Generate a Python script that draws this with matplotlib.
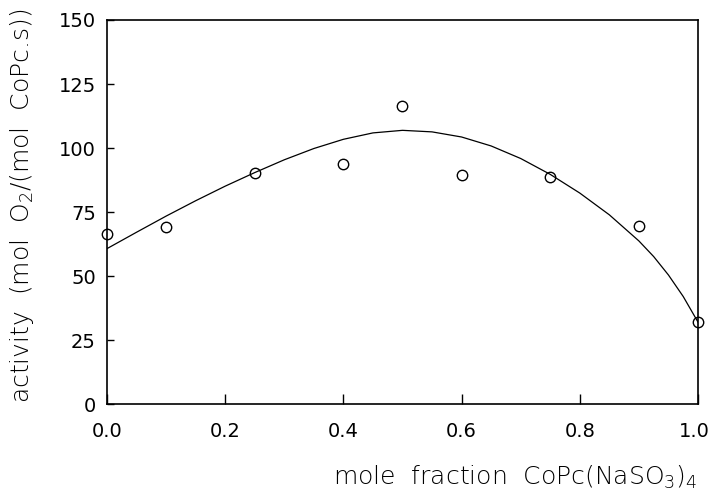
import matplotlib
matplotlib.use('Agg')
from matplotlib import pyplot as plt
from matplotlib import transforms

# measured activity vs. mole fraction
mole_fraction = [0.0, 0.1, 0.25, 0.4, 0.5, 0.6, 0.75, 0.9, 1.0]
activity = [66.5, 69.2, 90.3, 93.8, 116.5, 89.5, 88.7, 69.5, 32.0]

# fitted curve
fit_x = [0.0, 0.05, 0.1, 0.15, 0.2, 0.25, 0.3, 0.35, 0.4, 0.45, 0.5,
         0.55, 0.6, 0.65, 0.7, 0.75, 0.8, 0.85, 0.9, 0.925, 0.95, 0.975, 1.0]
fit_y = [60.7, 67.1, 73.4, 79.4, 85.1, 90.4, 95.4, 99.8, 103.4, 105.9, 106.9,
         106.3, 104.3, 100.8, 95.9, 89.7, 82.4, 73.9, 63.7, 57.6, 50.4, 42.0, 32.0]

xticks = [0.0, 0.2, 0.4, 0.6, 0.8, 1.0]
yticks = [0, 25, 50, 75, 100, 125, 150]

plt.rcParams['font.family'] = 'DejaVu Sans'
plt.rcParams['mathtext.default'] = 'regular'

fig = plt.figure(figsize=(7.11, 4.95), dpi=100)
ax = fig.add_axes([0.1505, 0.1838, 0.8312, 0.7758])

ax.plot(fit_x, fit_y, '-', color='black', lw=0.9)
ax.plot(mole_fraction, activity, 'o', mfc='none', mec='black', ms=7.5, mew=1.0,
        clip_on=False)

ax.set_xlim(0, 1)
ax.set_ylim(0, 150)
ax.set_xticks(xticks)
ax.set_xticklabels(['%.1f' % t for t in xticks])
ax.set_yticks(yticks)
ax.set_yticklabels([str(t) for t in yticks])
ax.tick_params(axis='x', direction='in', length=7, width=1, pad=13, labelsize=14)
ax.tick_params(axis='y', direction='in', length=5, width=1, pad=8, labelsize=14)
for s in ax.spines.values():
    s.set_linewidth(1.2)

# "1.0" sits right at the edge, pull it in a little
last = ax.get_xticklabels()[-1]
last.set_transform(last.get_transform() +
                   transforms.ScaledTranslation(-2.5 / 72, 0, fig.dpi_scale_trans))

plt.rcParams['mathtext.fontset'] = 'custom'
plt.rcParams['mathtext.rm'] = 'DejaVu Sans:light'
fig.text(0.031, 0.584, r'activity  (mol  O$_2$/(mol  CoPc.s))', rotation=90,
         ha='center', va='center', fontsize=18, fontweight='light')
fig.text(0.724, 0.035, r'mole  fraction  CoPc(NaSO$_3$)$_4$',
         ha='center', va='center', fontsize=18, fontweight='light')

fig.savefig('out.png', dpi=100)
